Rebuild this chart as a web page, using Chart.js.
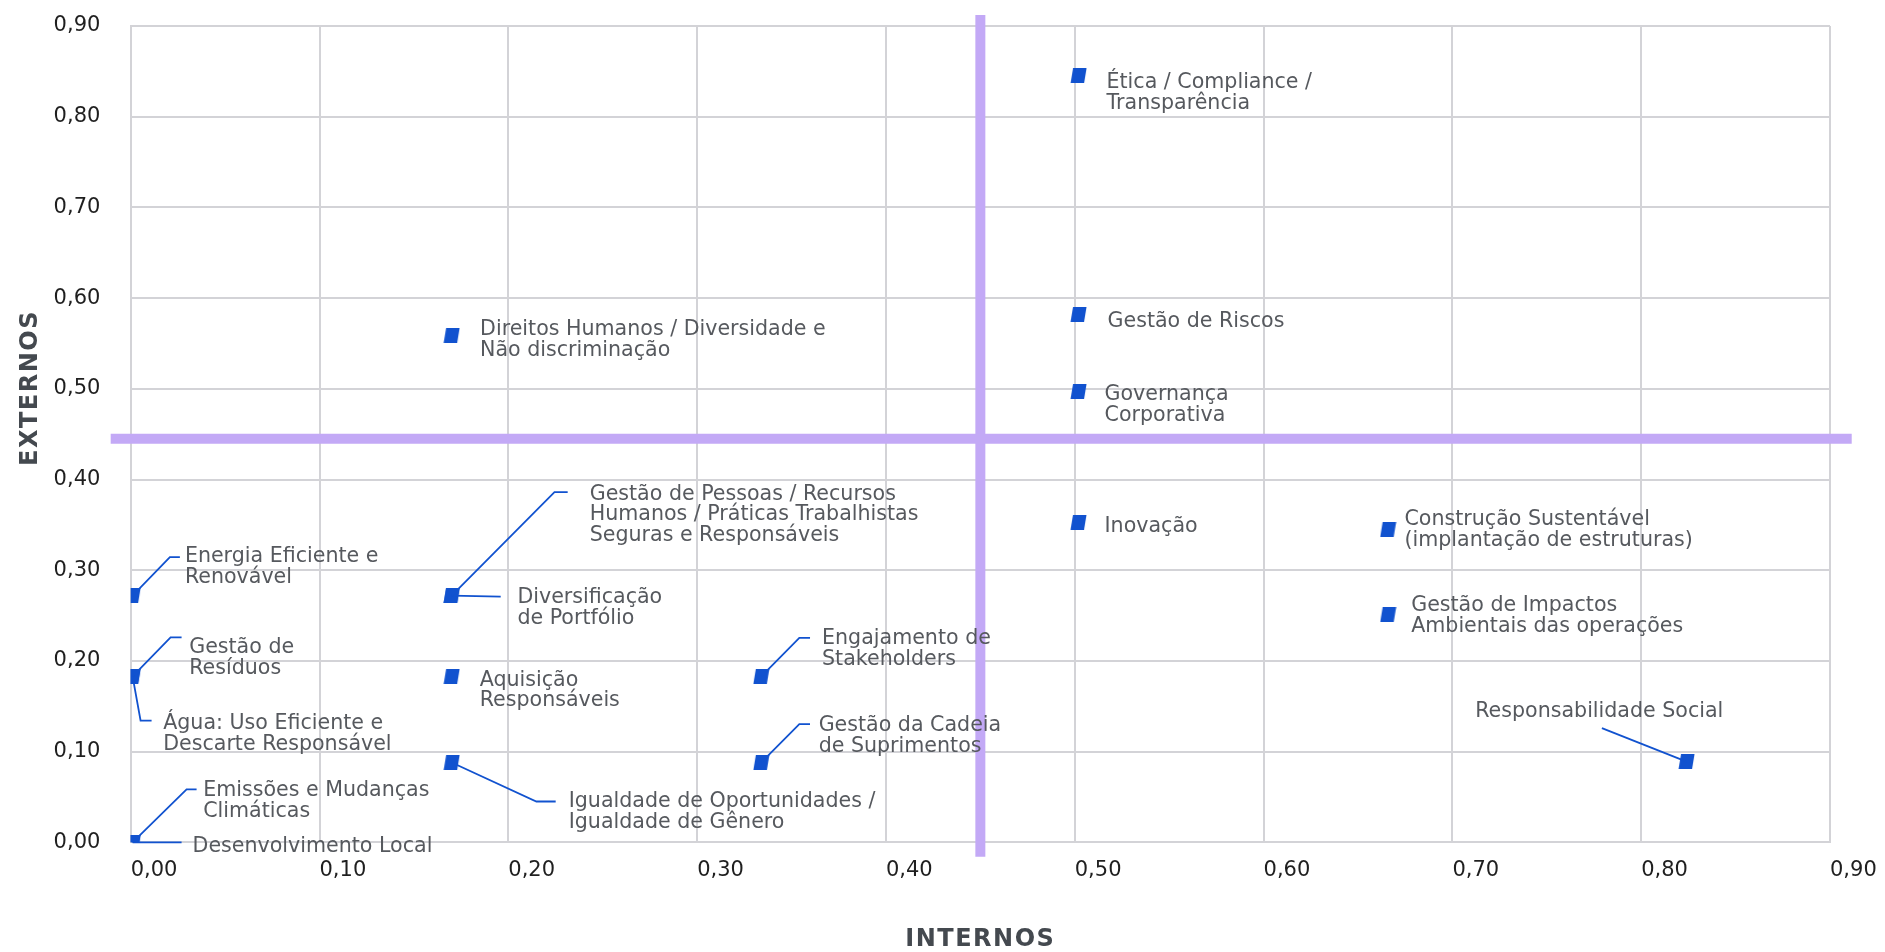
<!DOCTYPE html>
<html lang="pt-BR">
<head>
<meta charset="utf-8">
<title>Matriz de materialidade</title>
<script src="https://cdn.jsdelivr.net/npm/chart.js@4.4.1/dist/chart.umd.min.js"></script>
<style>
  html, body { margin: 0; padding: 0; background: #fff; }
  #wrap { width: 1885px; height: 952px; }
</style>
</head>
<body>
<div id="wrap"><canvas id="matrixChart" width="1885" height="952"></canvas></div>
<script>
// temas materiais (internos = eixo X, externos = eixo Y)
const topics = [
  "Ética / Compliance /\nTransparência",
  "Gestão de Riscos",
  "Governança\nCorporativa",
  "Inovação",
  "Direitos Humanos / Diversidade e\nNão discriminação",
  "Construção Sustentável\n(implantação de estruturas)",
  "Gestão de Impactos\nAmbientais das operações",
  "Responsabilidade Social",
  "Energia Eficiente e\nRenovável",
  "Gestão de\nResíduos",
  "Água: Uso Eficiente e\nDescarte Responsável",
  "Emissões e Mudanças\nClimáticas",
  "Desenvolvimento Local",
  "Diversificação\nde Portfólio",
  "Gestão de Pessoas / Recursos\nHumanos / Práticas Trabalhistas\nSeguras e Responsáveis",
  "Aquisição\nResponsáveis",
  "Igualdade de Oportunidades /\nIgualdade de Gênero",
  "Engajamento de\nStakeholders",
  "Gestão da Cadeia\nde Suprimentos",
];
const internos = [0.502, 0.502, 0.502, 0.502, 0.17, 0.666, 0.666, 0.824, 0.001, 0.001,
  0.001, 0.001, 0.001, 0.17, 0.17, 0.17, 0.17, 0.334, 0.334];
const externos = [0.845, 0.582, 0.497, 0.353, 0.559, 0.345, 0.251, 0.089, 0.272, 0.183,
  0.183, 0.0, 0.0, 0.272, 0.272, 0.183, 0.088, 0.183, 0.088];

const tickLabels = ["0,00", "0,10", "0,20", "0,30", "0,40", "0,50", "0,60", "0,70", "0,80", "0,90"];

// linhas dos quadrantes
const dividerInternos = 0.45;
const dividerExternos = 0.445;
const dividerSpanX = [-0.0106, 0.9115];
const dividerSpanY = [-0.016, 0.912];

// posicao dos rotulos em px a partir do marcador: texto [dx, dy] e linha guia
const labelLayout = [
  { text: [28, 12.5] },
  { text: [29, 13] },
  { text: [26, 8.3] },
  { text: [26, 9.7] },
  { text: [28.4, 0] },
  { text: [16.3, -4] },
  { text: [23, -3.3] },
  { text: [-211.3, -44.4], leader: [[-84.6, -33.4]] },
  { text: [52.3, -33.7], leader: [[37.3, -38.4], [47.3, -38.4]] },
  { text: [56.6, -23.4], leader: [[38, -39], [49, -39]] },
  { text: [30.6, 52.6], leader: [[8, 44.3], [19, 44.3]] },
  { text: [70.6, -46.4], leader: [[54, -53], [64, -53]] },
  { text: [60, 10], leader: [[49, 0]] },
  { text: [65.7, 7.6], leader: [[49, 1]] },
  { text: [138, -95.8], leader: [[102.8, -103.5], [116, -103.5]] },
  { text: [28, 9.3] },
  { text: [117, 45], leader: [[84.7, 39], [104, 39]] },
  { text: [60.7, -32.4], leader: [[38, -38.4], [48.7, -38.4]] },
  { text: [57.3, -31.6], leader: [[38, -38.3], [48.7, -38.3]] },
];

const BLUE = "#1152cf";
const PURPLE = "#c3a9f6";
const GRID = "#d3d3d7";
const FONT = "DejaVu Sans";

// marcador inclinado igual ao original
function makeMarker() {
  const c = document.createElement("canvas");
  c.width = 17;
  c.height = 15;
  const g = c.getContext("2d");
  g.fillStyle = BLUE;
  g.beginPath();
  g.moveTo(3, 0);
  g.lineTo(16.5, 0);
  g.lineTo(14, 15);
  g.lineTo(0.5, 15);
  g.closePath();
  g.fill();
  return c;
}

const annotations = {
  id: "annotations",
  afterDatasetsDraw(chart) {
    const { ctx, scales: { x, y } } = chart;
    ctx.save();
    topics.forEach((topic, i) => {
      const px = x.getPixelForValue(internos[i]);
      const py = y.getPixelForValue(externos[i]);
      const layout = labelLayout[i];
      if (layout.leader) {
        ctx.beginPath();
        ctx.moveTo(px, py);
        layout.leader.forEach(([dx, dy]) => ctx.lineTo(px + dx, py + dy));
        ctx.strokeStyle = BLUE;
        ctx.lineWidth = 1.8;
        ctx.stroke();
      }
      ctx.fillStyle = "#56595e";
      ctx.font = `20.6px "${FONT}"`;
      ctx.textAlign = "left";
      ctx.textBaseline = "alphabetic";
      topic.split("\n").forEach((line, k) => {
        ctx.fillText(line, px + layout.text[0], py + layout.text[1] + k * 20.7);
      });
    });
    ctx.restore();
  },
  afterDraw(chart) {
    const { ctx, chartArea } = chart;
    ctx.save();
    ctx.fillStyle = "#44494f";
    ctx.font = `bold 24px "${FONT}"`;
    ctx.letterSpacing = "1.5px";
    ctx.textAlign = "center";
    ctx.textBaseline = "middle";
    ctx.fillText("INTERNOS", (chartArea.left + chartArea.right) / 2, 940);
    ctx.translate(30.5, 388);
    ctx.rotate(-Math.PI / 2);
    ctx.fillText("EXTERNOS", 0, 0);
    ctx.restore();
  },
};

const tickFormat = (v) => tickLabels[Math.round(v * 10)];

new Chart(document.getElementById("matrixChart"), {
  type: "scatter",
  data: {
    datasets: [
      {
        label: "Temas",
        data: internos.map((v, i) => ({ x: v, y: externos[i] })),
        pointStyle: makeMarker(),
        pointRadius: 8,
      },
      {
        type: "line",
        label: "Divisor internos",
        data: [
          { x: dividerInternos, y: dividerSpanY[0] },
          { x: dividerInternos, y: dividerSpanY[1] },
        ],
        borderColor: PURPLE,
        borderWidth: 10,
        pointRadius: 0,
        clip: false,
      },
      {
        type: "line",
        label: "Divisor externos",
        data: [
          { x: dividerSpanX[0], y: dividerExternos },
          { x: dividerSpanX[1], y: dividerExternos },
        ],
        borderColor: PURPLE,
        borderWidth: 10,
        pointRadius: 0,
        clip: false,
      },
    ],
  },
  options: {
    responsive: false,
    animation: false,
    events: [],
    layout: { padding: { left: 53.6, top: 26, right: 55, bottom: 0 } },
    plugins: {
      legend: { display: false },
      tooltip: { enabled: false },
    },
    scales: {
      x: {
        type: "linear",
        min: 0,
        max: 0.9,
        afterFit: (scale) => {
          scale.height = 109.7;
          scale.paddingLeft = 0;
          scale.paddingRight = 0;
        },
        ticks: {
          stepSize: 0.1,
          align: "start",
          padding: 16,
          color: "#1f1f1f",
          font: { family: FONT, size: 21 },
          callback: tickFormat,
        },
        grid: { color: GRID, lineWidth: 2, drawTicks: false },
        border: { color: GRID, width: 2 },
      },
      y: {
        type: "linear",
        min: 0,
        max: 0.9,
        afterFit: (scale) => {
          scale.width = 77.1;
          scale.paddingTop = 0;
          scale.paddingBottom = 0;
        },
        ticks: {
          stepSize: 0.1,
          crossAlign: "far",
          color: "#1f1f1f",
          font: { family: FONT, size: 21 },
          callback: tickFormat,
        },
        grid: { color: GRID, lineWidth: 2, drawTicks: false },
        border: { color: GRID, width: 2 },
      },
    },
  },
  plugins: [annotations],
});
</script>
</body>
</html>
